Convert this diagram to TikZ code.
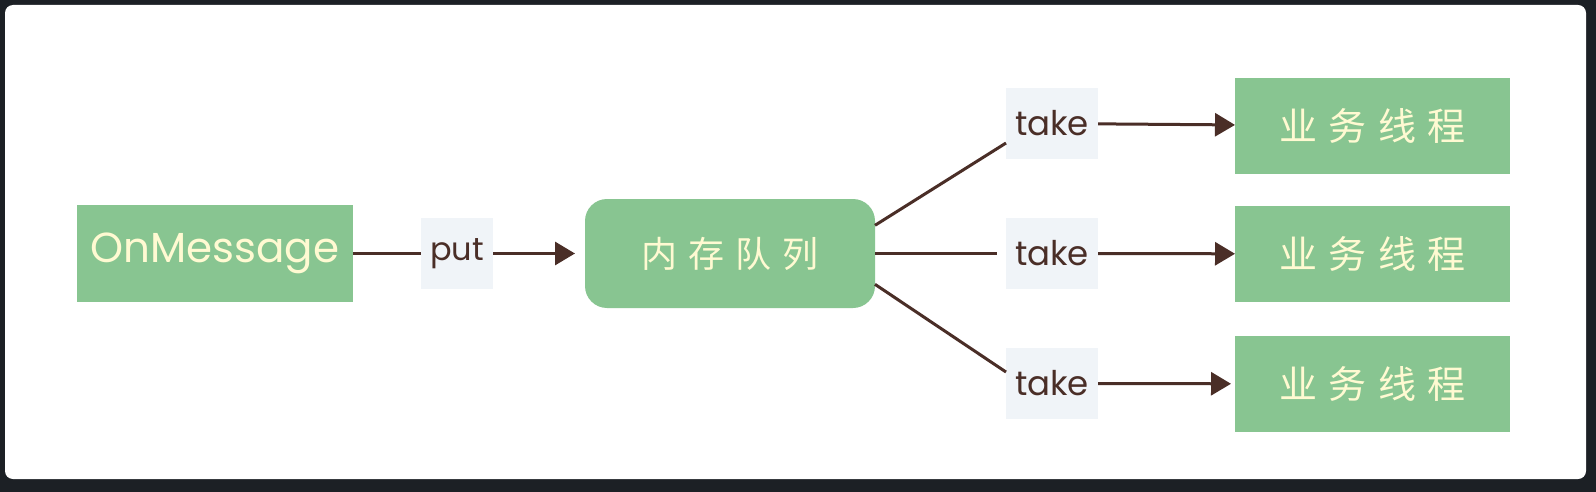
\documentclass[tikz,border=0pt]{standalone}
\usepackage{fontspec}
\setmainfont{Poppins}
\newfontfamily\cjk[LetterSpace=30]{Noto Sans CJK SC}
\usetikzlibrary{arrows.meta}
\usetikzlibrary{positioning}
\definecolor{bgdark}{HTML}{1C2025}
\definecolor{boxgreen}{HTML}{88C591}
\definecolor{cream}{HTML}{FFFAD2}
\definecolor{labelgray}{HTML}{F0F4F8}
\definecolor{linebrown}{HTML}{4A2E27}

\begin{document}
\begin{tikzpicture}[>={Triangle[length=20pt,width=23pt]},x=1pt,y=-1pt]
 \tikzstyle{green node}=[rectangle,fill=boxgreen,text=cream,inner sep=0,outer sep=0]
 \tikzstyle{label node}=[rectangle,fill=labelgray,text=linebrown,inner sep=0,outer sep=0,
   minimum width=92pt,minimum height=71pt,font=\fontsize{34}{40}\selectfont]
 \tikzset{
 	source node/.style={green node,minimum width=276pt,minimum height=97pt,font=\fontsize{42}{50}\selectfont},
 	queue node/.style={green node,rounded corners=22pt,minimum width=290pt,minimum height=109pt,font=\fontsize{36}{44}\selectfont\cjk},
 	thread node/.style={green node,minimum width=275pt,minimum height=96pt,font=\fontsize{38}{46}\selectfont\cjk},
 	edge/.style={draw=linebrown,line width=3pt}
 }

 % frame
 \fill[bgdark] (0,0) rectangle (1596,492);
 \fill[white,rounded corners=8pt] (5,5) rectangle (1586,479);
 \useasboundingbox (0,0) rectangle (1596,492);

       \node[source node] (om) at (215,253.5) {OnMessage};
       \node[label node,minimum width=72pt,font=\fontsize{32}{38}\selectfont] (put) [right=68pt of om] {put};
       \node[queue node] (q) [right=92pt of put] {内存队列};

       \node[label node] (take2) [right=131pt of q] {take};
       \node[label node] (take1) [above=59pt of take2] {take};
       \node[label node] (take3) [below=59pt of take2] {take};

       \node[thread node] (t1) at (1372.5,126) {业务线程};
       \node[thread node] (t2) at (1372.5,254) {业务线程};
       \node[thread node] (t3) at (1372.5,384) {业务线程};

     \path[edge]  (om) -- (put);
     \path[edge,->,shorten >=10pt]  (put) -- (q);

     \path[edge]  (q.11) -- (take1.203);
     \path[edge,shorten >=9pt]  (q) -- (take2);
     \path[edge]  (q.-12) -- (take3.166);

     \path[edge,->]  (take1) -- (t1);
     \path[edge,->]  (take2) -- (t2);
     \path[edge,->,shorten >=4pt]  (take3) -- (t3);
 \end{tikzpicture}
\end{document}
